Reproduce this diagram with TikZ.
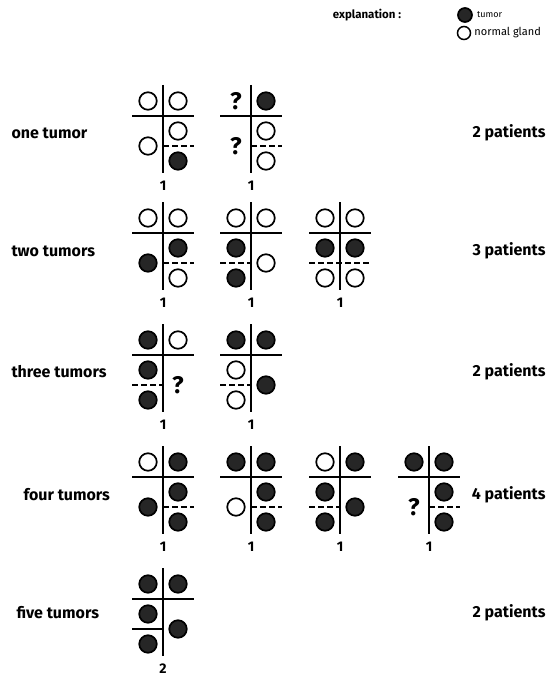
\documentclass[tikz,border=0pt]{standalone}
\usepackage{fontspec}
\setmainfont{Fira Sans}

\tikzset{
  cross/.style={line width=1.8pt},
  split/.style={line width=1.6pt,dash pattern=on 6pt off 3pt},
  glandbase/.style={circle,draw,line width=1.7pt,minimum size=17.5pt,
                    inner sep=0pt,node contents={}},
  tumor/.style={glandbase,fill=black!85},
  normal/.style={glandbase,fill=white},
  unknown/.style={inner sep=0pt,
                  node contents={\fontsize{24}{24}\selectfont\bfseries ?}},
  count/.style={font=\fontsize{14}{14}\selectfont\bfseries},
  rowlabel/.style={anchor=west,font=\fontsize{16}{16}\selectfont\bfseries},
  patients/.style={anchor=east,font=\fontsize{16}{16}\selectfont\bfseries}
}

% cross of one patient, drawn in a shifted scope
\newcommand{\glandcross}[2]{%
  \coordinate (tl) at (-15,0);  \coordinate (tr) at (15,0);
  \coordinate (lu) at (-15,30); \coordinate (l)  at (-15,45);
  \coordinate (ll) at (-15,60); \coordinate (ru) at (15,30);
  \coordinate (r)  at (15,45);  \coordinate (rl) at (15,60);
  \coordinate (top) at (0,-16); \coordinate (bot) at (0,72);
  \coordinate (west) at (-31,15); \coordinate (east) at (31,15);
  \coordinate (dw) at (-31,45); \coordinate (dm) at (0,45);
  \coordinate (de) at (31,45);
  \draw[cross] (top) -- (bot);
  \draw[cross] (west) -- (east);
  \node[count] (#1-n) at (0,85) {#2};
}

\begin{document}
\begin{tikzpicture}[x=1pt,y=-1pt]
  \useasboundingbox (0,0) rectangle (554,679);

  % legend
  \node[font=\fontsize{11.5}{12}\selectfont\bfseries] (expl) at (367,15) {explanation :};
  \node (key-t) at (465,15) [tumor,minimum size=14pt];
  \node (key-g) at (464,33) [normal,minimum size=13pt,line width=1.5pt];
  \node[anchor=west,inner sep=4pt,font=\fontsize{9}{9}\selectfont] (key-tt)
        at (key-t.east) {tumor};
  \node[anchor=west,inner sep=3pt,font=\fontsize{11}{11}\selectfont] (key-gt)
        at (key-g.east) {normal gland};

  % row labels
  \node[rowlabel] (one)   at (8,133)  {one tumor};
  \node[rowlabel] (two)   at (8,251)  {two tumors};
  \node[rowlabel] (three) at (8,372)  {three tumors};
  \node[rowlabel] (four)  at (20,495) {four tumors};
  \node[rowlabel] (five)  at (13,613) {five tumors};

  \node[patients] (p1) at (549,133) {2 patients};
  \node[patients] (p2) at (549,251) {3 patients};
  \node[patients] (p3) at (549,372) {2 patients};
  \node[patients] (p4) at (549,495) {4 patients};
  \node[patients] (p5) at (549,613) {2 patients};

  % one tumor
  \begin{scope}[shift={(163,101)}]
    \glandcross{a1}{1}
    \draw[split] (dm) -- (de);
    \foreach \pos/\kind in {tl/normal,tr/normal,l/normal,ru/normal,rl/tumor}
      \node (a1-\pos) at (\pos) [\kind];
  \end{scope}
  \begin{scope}[shift={(251,101)}]
    \glandcross{a2}{1}
    \draw[split] (dm) -- (de);
    \foreach \pos/\kind in {tl/unknown,tr/tumor,l/unknown,ru/normal,rl/normal}
      \node (a2-\pos) at (\pos) [\kind];
  \end{scope}

  % two tumors
  \begin{scope}[shift={(163,218)}]
    \glandcross{b1}{1}
    \draw[split] (dm) -- (de);
    \foreach \pos/\kind in {tl/normal,tr/normal,l/tumor,ru/tumor,rl/normal}
      \node (b1-\pos) at (\pos) [\kind];
  \end{scope}
  \begin{scope}[shift={(251,218)}]
    \glandcross{b2}{1}
    \draw[split] (dw) -- (dm);
    \foreach \pos/\kind in {tl/normal,tr/normal,lu/tumor,ll/tumor,r/normal}
      \node (b2-\pos) at (\pos) [\kind];
  \end{scope}
  \begin{scope}[shift={(340,218)}]
    \glandcross{b3}{1}
    \draw[split] (dw) -- (de);
    \foreach \pos/\kind in {tl/normal,tr/normal,lu/tumor,ll/normal,ru/tumor,rl/normal}
      \node (b3-\pos) at (\pos) [\kind];
  \end{scope}

  % three tumors
  \begin{scope}[shift={(163,340)}]
    \glandcross{c1}{1}
    \draw[split] (dw) -- (dm);
    \foreach \pos/\kind in {tl/tumor,tr/normal,lu/tumor,ll/tumor,r/unknown}
      \node (c1-\pos) at (\pos) [\kind];
  \end{scope}
  \begin{scope}[shift={(251,340)}]
    \glandcross{c2}{1}
    \draw[split] (dw) -- (dm);
    \foreach \pos/\kind in {tl/tumor,tr/tumor,lu/normal,ll/normal,r/tumor}
      \node (c2-\pos) at (\pos) [\kind];
  \end{scope}

  % four tumors
  \begin{scope}[shift={(163,462)}]
    \glandcross{d1}{1}
    \draw[split] (dm) -- (de);
    \foreach \pos/\kind in {tl/normal,tr/tumor,l/tumor,ru/tumor,rl/tumor}
      \node (d1-\pos) at (\pos) [\kind];
  \end{scope}
  \begin{scope}[shift={(251,462)}]
    \glandcross{d2}{1}
    \draw[split] (dm) -- (de);
    \foreach \pos/\kind in {tl/tumor,tr/tumor,l/normal,ru/tumor,rl/tumor}
      \node (d2-\pos) at (\pos) [\kind];
  \end{scope}
  \begin{scope}[shift={(340,462)}]
    \glandcross{d3}{1}
    \draw[split] (dw) -- (dm);
    \foreach \pos/\kind in {tl/normal,tr/tumor,lu/tumor,ll/tumor,r/tumor}
      \node (d3-\pos) at (\pos) [\kind];
  \end{scope}
  \begin{scope}[shift={(429,462)}]
    \glandcross{d4}{1}
    \draw[split] (dm) -- (de);
    \foreach \pos/\kind in {tl/tumor,tr/tumor,l/unknown,ru/tumor,rl/tumor}
      \node (d4-\pos) at (\pos) [\kind];
  \end{scope}

  % five tumors
  \begin{scope}[shift={(163,584)}]
    \glandcross{e1}{2}
    \draw[cross] (dw) -- (dm);
    \foreach \pos/\kind in {tl/tumor,tr/tumor,lu/tumor,ll/tumor,r/tumor}
      \node (e1-\pos) at (\pos) [\kind];
  \end{scope}
\end{tikzpicture}
\end{document}
